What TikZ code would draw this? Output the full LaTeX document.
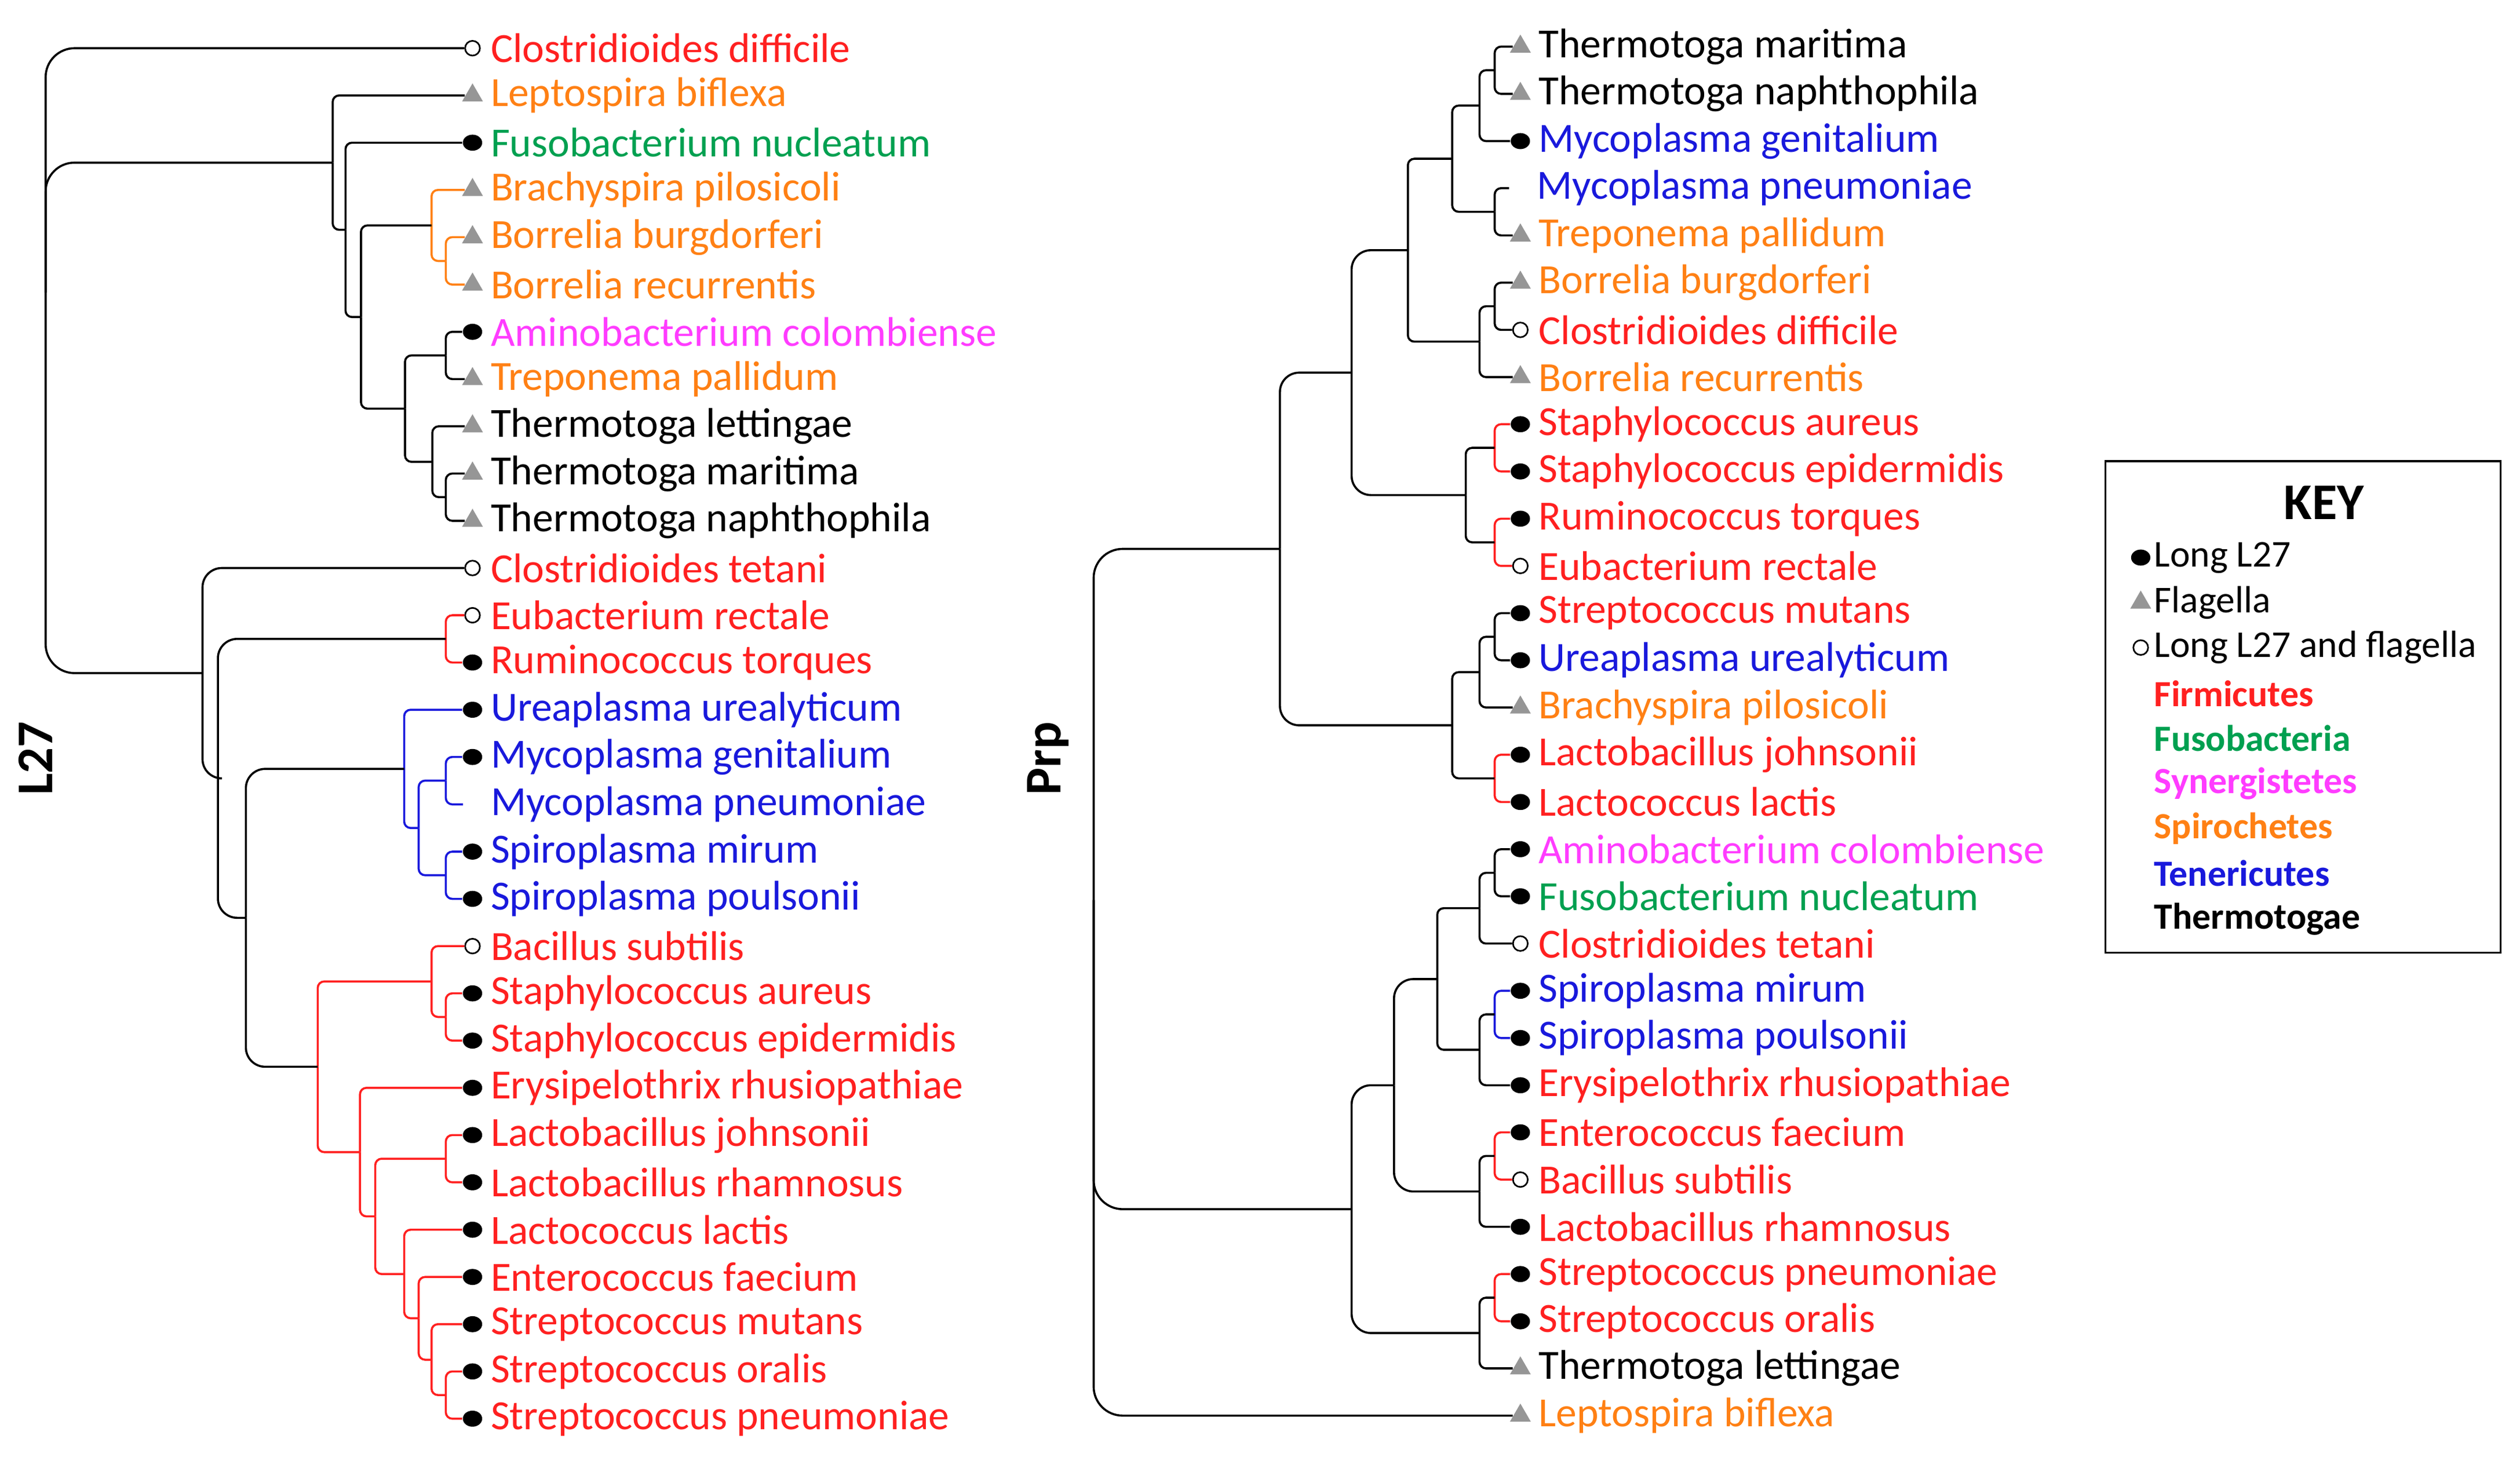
\documentclass[tikz,border=0pt]{standalone}
\usepackage{fontspec}
\setmainfont{Carlito}
\definecolor{fr}{RGB}{255,32,32}
\definecolor{sp}{RGB}{255,128,20}
\definecolor{fu}{RGB}{0,160,80}
\definecolor{sy}{RGB}{255,60,255}
\definecolor{te}{RGB}{25,25,220}
\definecolor{tg}{RGB}{0,0,0}
\definecolor{tri}{RGB}{150,150,150}
\tikzset{
 d/.style={ellipse,fill=black,minimum width=6pt,minimum height=5pt,inner sep=0pt},
 o/.style={circle,draw=black,fill=white,line width=0.5pt,minimum size=4.6pt,inner sep=0pt},
 t/.style={regular polygon,regular polygon sides=3,fill=tri,minimum size=7.5pt,inner sep=0pt},
 lab/.style={anchor=west,inner sep=0pt,font=\fontsize{12.9}{14}\selectfont},
 klab/.style={anchor=west,inner sep=0pt,font=\fontsize{11.8}{13}\selectfont},
 br/.style={line width=0.65pt,rounded corners=2pt},
 big/.style={line width=0.65pt,rounded corners=6pt},
}
\usetikzlibrary{shapes.geometric}
% \lf{name}{x}{y}{marker}{color}{text}
\newcommand\lf[6]{\node[#4] (#1) at (#2,#3) {}; \node[lab,text=#5] (#1-t) at ([xshift=5.5]#2,#3) {#6};}
\newcommand\lfn[5]{\coordinate (#1) at (#2,#3); \node[lab,text=#4] (#1-t) at ([xshift=5.5+3]#2,#3) {#5};}
\begin{document}
\begin{tikzpicture}[x=0.5pt,y=-0.5pt]
\useasboundingbox (0,0) rectangle (1568,906.4);
% ---------------- LEFT TREE ----------------
\lf{a0}{294}{30}{o}{fr}{Clostridioides difficile}
\lf{a1}{294}{59.4}{t}{sp}{Leptospira biflexa}
\lf{a2}{294}{88.8}{d}{fu}{Fusobacterium nucleatum}
\lf{a3}{294}{118.2}{t}{sp}{Brachyspira pilosicoli}
\lf{a4}{294}{147.6}{t}{sp}{Borrelia burgdorferi}
\lf{a5}{294}{177.1}{t}{sp}{Borrelia recurrentis}
\lf{a6}{294}{206.5}{d}{sy}{Aminobacterium colombiense}
\lf{a7}{294}{235.9}{t}{sp}{Treponema pallidum}
\lf{a8}{294}{265.3}{t}{tg}{Thermotoga lettingae}
\lf{a9}{294}{294.7}{t}{tg}{Thermotoga maritima}
\lf{a10}{294}{324.1}{t}{tg}{Thermotoga naphthophila}
\lf{a11}{294}{353.5}{o}{fr}{Clostridioides tetani}
\lf{a12}{294}{382.9}{o}{fr}{Eubacterium rectale}
\lf{a13}{294}{412.3}{d}{fr}{Ruminococcus torques}
\lf{a14}{294}{441.7}{d}{te}{Ureaplasma urealyticum}
\lf{a15}{294}{471.1}{d}{te}{Mycoplasma genitalium}
\lfn{a16}{288}{500.6}{te}{Mycoplasma pneumoniae}
\lf{a17}{294}{530}{d}{te}{Spiroplasma mirum}
\lf{a18}{294}{559.4}{d}{te}{Spiroplasma poulsonii}
\lf{a19}{294}{588.8}{o}{fr}{Bacillus subtilis}
\lf{a20}{294}{618.2}{d}{fr}{Staphylococcus aureus}
\lf{a21}{294}{647.6}{d}{fr}{Staphylococcus epidermidis}
\lf{a22}{294}{677}{d}{fr}{Erysipelothrix rhusiopathiae}
\lf{a23}{294}{706.4}{d}{fr}{Lactobacillus johnsonii}
\lf{a24}{294}{735.8}{d}{fr}{Lactobacillus rhamnosus}
\lf{a25}{294}{765.3}{d}{fr}{Lactococcus lactis}
\lf{a26}{294}{794.7}{d}{fr}{Enterococcus faecium}
\lf{a27}{294}{824.1}{d}{fr}{Streptococcus mutans}
\lf{a28}{294}{853.5}{d}{fr}{Streptococcus oralis}
\lf{a29}{294}{882.9}{d}{fr}{Streptococcus pneumoniae}
\coordinate (E2) at (277.4,162.4);
\coordinate (E) at (268.5,140.3);
\coordinate (G) at (277.4,221.2);
\coordinate (I) at (277.4,309.4);
\coordinate (H) at (269,287.4);
\coordinate (F) at (252,254.3);
\coordinate (D) at (224.6,197.3);
\coordinate (C) at (215,143);
\coordinate (A) at (207,101.2);
\coordinate (K) at (277.4,397.6);
\coordinate (R) at (277.4,485.8);
\coordinate (S) at (277.4,544.7);
\coordinate (Q) at (260.5,515.3);
\coordinate (N) at (251.5,478.5);
\coordinate (V) at (277.4,632.9);
\coordinate (T) at (268.5,610.8);
\coordinate (X) at (277.4,721.1);
\coordinate (AB) at (277.4,868.2);
\coordinate (AA) at (268.5,846.2);
\coordinate (Z) at (260.5,820.4);
\coordinate (Y) at (251.5,792.9);
\coordinate (W) at (233.5,757);
\coordinate (U) at (224,717);
\coordinate (P) at (197.7,663.9);
\coordinate (M) at (153,571.2);
\coordinate (L) at (135.6,484.4);
\coordinate (B) at (126,418.9);
\coordinate (root) at (28.4,182);
% edges
\draw[br,sp] (E2) |- (a4); \draw[br,sp] (E2) |- (a5);
\draw[br,sp] (E) |- (a3); \draw[br,sp] (E) |- (E2);
\draw[br] (G) |- (a6); \draw[br] (G) |- (a7);
\draw[br] (I) |- (a9); \draw[br] (I) |- (a10);
\draw[br] (H) |- (a8); \draw[br] (H) |- (I);
\draw[br] (F) |- (G); \draw[br] (F) |- (H);
\draw[br] (D) |- (E); \draw[br] (D) |- (F);
\draw[br] (C) |- (a2); \draw[br] (C) |- (D);
\draw[br] (A) |- (a1); \draw[br] (A) |- (C);
\draw[br,fr] (K) |- (a12); \draw[br,fr] (K) |- (a13);
\draw[br,te] (R) |- (a15); \draw[br,te] (R) |- (a16);
\draw[br,te] (S) |- (a17); \draw[br,te] (S) |- (a18);
\draw[br,te] (Q) |- (R); \draw[br,te] (Q) |- (S);
\draw[br,te] (N) |- (a14); \draw[br,te] (N) |- (Q);
\draw[br,fr] (V) |- (a20); \draw[br,fr] (V) |- (a21);
\draw[br,fr] (T) |- (a19); \draw[br,fr] (T) |- (V);
\draw[br,fr] (X) |- (a23); \draw[br,fr] (X) |- (a24);
\draw[br,fr] (AB) |- (a28); \draw[br,fr] (AB) |- (a29);
\draw[br,fr] (AA) |- (a27); \draw[br,fr] (AA) |- (AB);
\draw[br,fr] (Z) |- (a26); \draw[br,fr] (Z) |- (AA);
\draw[br,fr] (Y) |- (a25); \draw[br,fr] (Y) |- (Z);
\draw[br,fr] (W) |- (X); \draw[br,fr] (W) |- (Y);
\draw[br,fr] (U) |- (a22); \draw[br,fr] (U) |- (W);
\draw[br,fr] (P) |- (T); \draw[br,fr] (P) |- (U);
\draw[big] (M) |- (N); \draw[big] (M) |- (P);
\draw[big] (L) |- (K); \draw[big] (L) |- (M);
\draw[big] (B) |- (a11); \draw[big] (B) |- (L);
\draw[big,rounded corners=9pt] (root) |- (a0);
\draw[big,rounded corners=9pt] (root) |- (B);
\draw[big,rounded corners=9pt] (A) -| (root);
\node[rotate=90,font=\fontsize{16}{18}\selectfont\bfseries,inner sep=0pt] (l27) at (22,472) {L27};
% ---------------- RIGHT TREE ----------------
\lf{b0}{946}{29}{t}{tg}{Thermotoga maritima}
\lf{b1}{946}{58.4}{t}{tg}{Thermotoga naphthophila}
\lf{b2}{946}{87.8}{d}{te}{Mycoplasma genitalium}
\lfn{b3}{939}{117.1}{te}{Mycoplasma pneumoniae}
\lf{b4}{946}{146.5}{t}{sp}{Treponema pallidum}
\lf{b5}{946}{175.9}{t}{sp}{Borrelia burgdorferi}
\lf{b6}{946}{205.3}{o}{fr}{Clostridioides difficile}
\lf{b7}{946}{234.7}{t}{sp}{Borrelia recurrentis}
\lf{b8}{946}{264}{d}{fr}{Staphylococcus aureus}
\lf{b9}{946}{293.4}{d}{fr}{Staphylococcus epidermidis}
\lf{b10}{946}{322.8}{d}{fr}{Ruminococcus torques}
\lf{b11}{946}{352.2}{o}{fr}{Eubacterium rectale}
\lf{b12}{946}{381.6}{d}{fr}{Streptococcus mutans}
\lf{b13}{946}{410.9}{d}{te}{Ureaplasma urealyticum}
\lf{b14}{946}{440.3}{t}{sp}{Brachyspira pilosicoli}
\lf{b15}{946}{469.7}{d}{fr}{Lactobacillus johnsonii}
\lf{b16}{946}{499.1}{d}{fr}{Lactococcus lactis}
\lf{b17}{946}{528.5}{d}{sy}{Aminobacterium colombiense}
\lf{b18}{946}{557.8}{d}{fu}{Fusobacterium nucleatum}
\lf{b19}{946}{587.2}{o}{fr}{Clostridioides tetani}
\lf{b20}{946}{616.6}{d}{te}{Spiroplasma mirum}
\lf{b21}{946}{646}{d}{te}{Spiroplasma poulsonii}
\lf{b22}{946}{675.4}{d}{fr}{Erysipelothrix rhusiopathiae}
\lf{b23}{946}{704.7}{d}{fr}{Enterococcus faecium}
\lf{b24}{946}{734.1}{o}{fr}{Bacillus subtilis}
\lf{b25}{946}{763.5}{d}{fr}{Lactobacillus rhamnosus}
\lf{b26}{946}{792.9}{d}{fr}{Streptococcus pneumoniae}
\lf{b27}{946}{822.3}{d}{fr}{Streptococcus oralis}
\lf{b28}{946}{851.6}{t}{tg}{Thermotoga lettingae}
\lf{b29}{946}{881}{t}{sp}{Leptospira biflexa}
\coordinate (P1aa) at (930,43.7);
\coordinate (P1a) at (920.6,65.7);
\coordinate (P1b) at (930,131.8);
\coordinate (P1) at (903.6,98.8);
\coordinate (P2a) at (930,190.6);
\coordinate (P2) at (920.6,212.6);
\coordinate (Pn) at (876,155.7);
\coordinate (Q1) at (930,278.7);
\coordinate (Q2) at (930,337.5);
\coordinate (Qn) at (912,308.1);
\coordinate (R1a) at (841,231.9);
\coordinate (R1b1a) at (930,396.3);
\coordinate (R1b1) at (920.6,418.3);
\coordinate (R1b2) at (930,484.4);
\coordinate (R1b) at (903.6,451.4);
\coordinate (R1) at (796.4,341.6);
\coordinate (S1aa) at (930,543.2);
\coordinate (S1a) at (920.6,565.2);
\coordinate (S1ba) at (930,631.3);
\coordinate (S1b) at (920.6,653.3);
\coordinate (S1) at (894.3,609.3);
\coordinate (S2a) at (930,719.4);
\coordinate (S2) at (920.6,741.5);
\coordinate (Sn) at (867.4,675.4);
\coordinate (Ta) at (930,807.6);
\coordinate (Tn) at (920.6,829.6);
\coordinate (R2) at (841,752.5);
\coordinate (rootR) at (680.5,560);
\draw[br] (P1aa) |- (b0); \draw[br] (P1aa) |- (b1);
\draw[br] (P1a) |- (P1aa); \draw[br] (P1a) |- (b2);
\draw[br] (P1b) |- (b3); \draw[br] (P1b) |- (b4);
\draw[br] (P1) |- (P1a); \draw[br] (P1) |- (P1b);
\draw[br] (P2a) |- (b5); \draw[br] (P2a) |- (b6);
\draw[br] (P2) |- (P2a); \draw[br] (P2) |- (b7);
\draw[br] (Pn) |- (P1); \draw[br] (Pn) |- (P2);
\draw[br,fr] (Q1) |- (b8); \draw[br,fr] (Q1) |- (b9);
\draw[br,fr] (Q2) |- (b10); \draw[br,fr] (Q2) |- (b11);
\draw[br] (Qn) |- (Q1); \draw[br] (Qn) |- (Q2);
\draw[big] (R1a) |- (Pn); \draw[big] (R1a) |- (Qn);
\draw[br] (R1b1a) |- (b12); \draw[br] (R1b1a) |- (b13);
\draw[br] (R1b1) |- (R1b1a); \draw[br] (R1b1) |- (b14);
\draw[br,fr] (R1b2) |- (b15); \draw[br,fr] (R1b2) |- (b16);
\draw[br] (R1b) |- (R1b1); \draw[br] (R1b) |- (R1b2);
\draw[big] (R1) |- (R1a); \draw[big] (R1) |- (R1b);
\draw[br] (S1aa) |- (b17); \draw[br] (S1aa) |- (b18);
\draw[br] (S1a) |- (S1aa); \draw[br] (S1a) |- (b19);
\draw[br,te] (S1ba) |- (b20); \draw[br,te] (S1ba) |- (b21);
\draw[br] (S1b) |- (S1ba); \draw[br] (S1b) |- (b22);
\draw[br] (S1) |- (S1a); \draw[br] (S1) |- (S1b);
\draw[br,fr] (S2a) |- (b23); \draw[br,fr] (S2a) |- (b24);
\draw[br] (S2) |- (S2a); \draw[br] (S2) |- (b25);
\draw[big] (Sn) |- (S1); \draw[big] (Sn) |- (S2);
\draw[br,fr] (Ta) |- (b26); \draw[br,fr] (Ta) |- (b27);
\draw[br] (Tn) |- (Ta); \draw[br] (Tn) |- (b28);
\draw[big] (R2) |- (Sn); \draw[big] (R2) |- (Tn);
\draw[big,rounded corners=9pt] (rootR) |- (R1);
\draw[big,rounded corners=9pt] (rootR) |- (b29);
\draw[big,rounded corners=9pt] (R2) -| (rootR);
\node[rotate=90,font=\fontsize{16}{18}\selectfont\bfseries,inner sep=0pt] (prp) at (652,472) {Prp};
% ---------------- KEY ----------------
\node[draw=black,line width=0.6pt,minimum width=123pt,minimum height=153pt,inner sep=0pt] (key) at (1433,440) {};
\node[font=\fontsize{16}{18}\selectfont\bfseries,inner sep=0pt] (keyt) at (1446,313) {KEY};
\node[d] (k1) at (1332,347) {}; \node[klab] (k1t) at (1340,347) {Long L27};
\node[t] (k2) at (1332,375) {}; \node[klab] (k2t) at (1340,375) {Flagella};
\node[o] (k3) at (1332,403) {}; \node[klab] (k3t) at (1340,403) {Long L27 and flagella};
\node[klab,font=\fontsize{11.5}{13}\selectfont\bfseries,text=fr] (k4) at (1340,431.8) {Firmicutes};
\node[klab,font=\fontsize{11.5}{13}\selectfont\bfseries,text=fu] (k5) at (1340,459.5) {Fusobacteria};
\node[klab,font=\fontsize{11.5}{13}\selectfont\bfseries,text=sy] (k6) at (1340,487.5) {Synergistetes};
\node[klab,font=\fontsize{11.5}{13}\selectfont\bfseries,text=sp] (k7) at (1340,515.5) {Spirochetes};
\node[klab,font=\fontsize{11.5}{13}\selectfont\bfseries,text=te] (k8) at (1340,543.4) {Tenericutes};
\node[klab,font=\fontsize{11.5}{13}\selectfont\bfseries,text=tg] (k9) at (1340,572) {Thermotogae};
\end{tikzpicture}
\end{document}
